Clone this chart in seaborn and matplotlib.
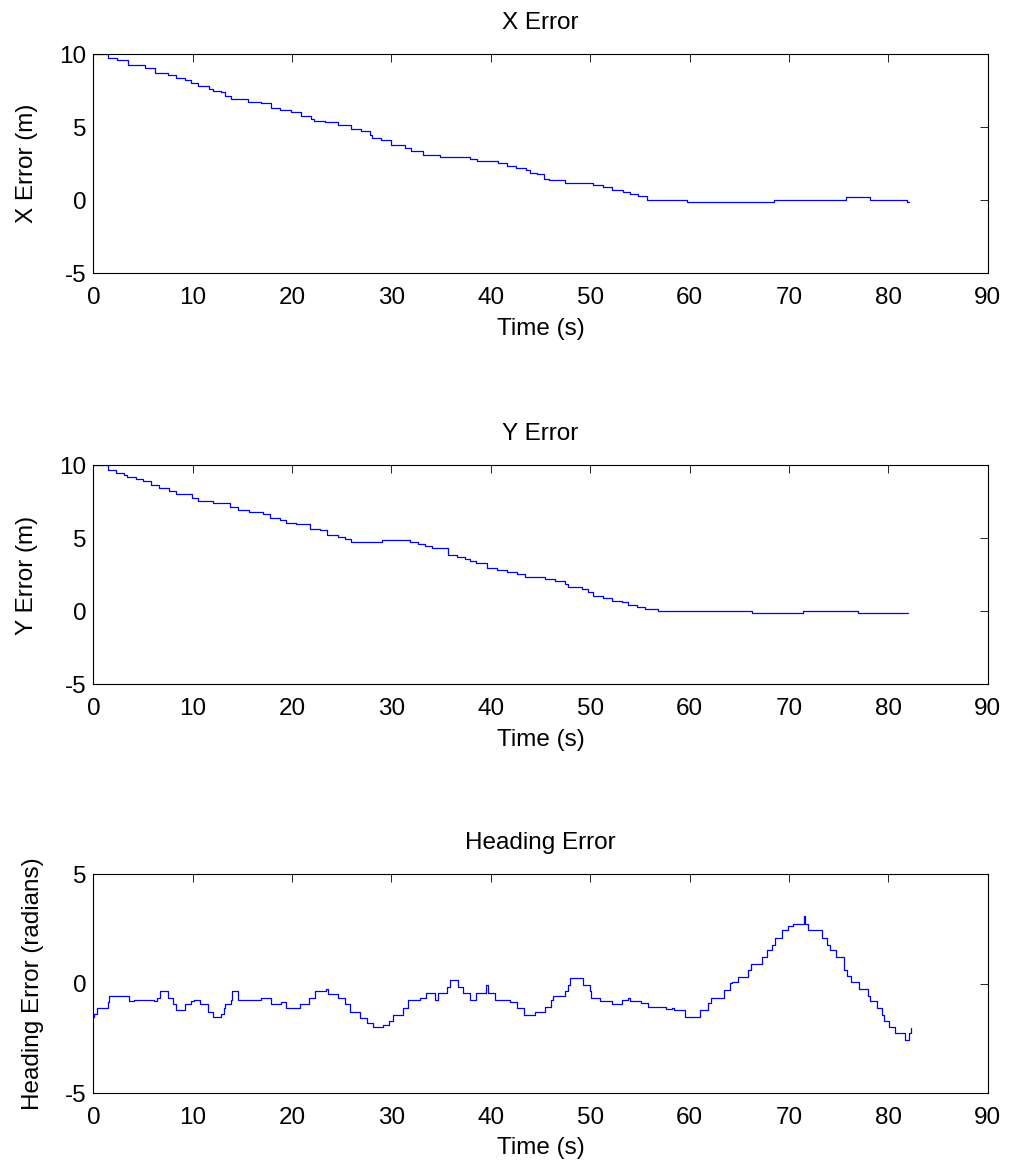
import matplotlib
matplotlib.use("Agg")
import matplotlib.pyplot as plt
import seaborn as sns

# X error: step start times (s) and values (m)
x_err_t = [0, 1.5, 2.4, 3.5, 5.2, 6.2, 7.5, 8.3, 9.2, 9.8, 10.5, 11.6, 12.0, 12.8, 13.3,
           13.9, 15.6, 16.9, 17.9, 18.8, 19.9, 20.9, 21.9, 22.2, 23.3, 24.6, 25.95, 26.95,
           27.8, 28.0, 28.95, 30.0, 31.35, 32.0, 33.2, 34.9, 37.9, 38.6, 40.75, 41.6, 42.55,
           43.5, 43.9, 44.6, 45.4, 45.9, 47.45, 50.3, 51.3, 52.2, 53.35, 54.0, 54.85, 55.7,
           59.7, 68.45, 75.7, 78.2, 81.9, 82.1]
x_err_v = [10.0, 9.77, 9.6, 9.3, 9.03, 8.73, 8.56, 8.38, 8.22, 8.03, 7.85, 7.6, 7.52, 7.4, 7.15,
           6.94, 6.76, 6.64, 6.34, 6.18, 6.02, 5.79, 5.6, 5.44, 5.33, 5.19, 4.86, 4.72,
           4.5, 4.28, 4.14, 3.82, 3.56, 3.40, 3.1, 2.99, 2.83, 2.69, 2.53, 2.36, 2.2,
           2.05, 1.9, 1.79, 1.48, 1.37, 1.20, 1.02, 0.90, 0.74, 0.58, 0.44, 0.28, 0.02,
           -0.12, 0.02, 0.21, 0.02, -0.1, -0.12]

# Y error
y_err_t = [0, 1.5, 2.3, 3.1, 3.4, 4.3, 4.95, 5.8, 6.65, 7.65, 8.3, 9.9, 10.5, 12.0, 13.8,
           14.55, 15.7, 17.05, 17.8, 18.75, 19.4, 20.4, 21.8, 22.8, 23.5, 24.6, 25.3, 25.95,
           29.0, 31.9, 32.7, 33.35, 34.05, 35.7, 36.55, 37.4, 37.9, 38.55, 39.6, 40.6, 41.6,
           42.6, 43.45, 45.45, 46.45, 47.5, 47.8, 49.15, 49.8, 50.3, 51.3, 52.2, 53.2, 53.85,
           54.7, 55.5, 56.85, 66.25, 71.45, 77.0, 82.0]
y_err_v = [10.0, 9.69, 9.5, 9.34, 9.22, 9.06, 8.92, 8.64, 8.48, 8.25, 8.04, 7.78, 7.57, 7.41, 7.13,
           6.97, 6.83, 6.67, 6.39, 6.23, 6.09, 5.97, 5.67, 5.56, 5.23, 5.09, 4.93, 4.76,
           4.90, 4.76, 4.62, 4.46, 4.32, 3.88, 3.76, 3.6, 3.46, 3.3, 3.0, 2.84, 2.72,
           2.54, 2.37, 2.25, 2.07, 1.85, 1.67, 1.51, 1.32, 1.09, 0.93, 0.74, 0.63, 0.46,
           0.32, 0.16, 0.0, -0.12, 0.02, -0.12, -0.12]

# heading error (radians)
hd_err_t = [0, 0.1, 0.4, 1.45, 1.6, 3.6, 4.1, 6.1, 6.45, 6.7, 7.5, 8.0, 8.3, 9.2, 9.8, 10.1,
            10.7, 11.5, 12.0, 12.85, 13.1, 13.3, 13.85, 14.0, 14.55, 16.9, 17.9, 18.9, 19.4,
            20.75, 21.75, 22.3, 23.45, 23.6, 24.6, 25.3, 25.85, 26.8, 27.5, 28.15, 29.15,
            29.8, 30.15, 31.15, 31.7, 32.85, 33.5, 34.35, 34.7, 35.55, 35.85, 36.7, 37.2,
            37.9, 38.55, 39.55, 39.7, 40.4, 41.9, 42.6, 43.3, 44.45, 45.45, 46.1, 46.3, 47.45,
            47.8, 48.0, 49.25, 49.95, 50.1, 50.95, 52.15, 53.2, 53.85, 54.0, 55.1, 55.85,
            57.65, 58.2, 58.4, 59.55, 61.1, 61.85, 62.2, 63.5, 64.1, 64.3, 64.9, 65.9, 66.2,
            67.3, 67.8, 68.3, 68.6, 69.3, 69.95, 70.45, 71.5, 71.65, 71.9, 73.3, 73.85, 74.1,
            74.7, 75.5, 75.85, 76.2, 77.05, 78.0, 78.2, 78.85, 79.4, 79.55, 80.05, 80.7, 81.7,
            82.1, 82.25]
hd_err_v = [-1.5, -1.38, -1.12, -0.85, -0.54, -0.81, -0.72, -0.81, -0.63, -0.34, -0.63, -0.93,
            -1.22, -0.93, -0.81, -0.72, -0.92, -1.27, -1.53, -1.4, -1.12, -0.92, -0.72, -0.34,
            -0.72, -0.65, -0.93, -0.82, -1.12, -0.92, -0.63, -0.34, -0.25, -0.47, -0.65, -0.93,
            -1.3, -1.57, -1.77, -1.99, -1.88, -1.68, -1.41, -1.12, -0.72, -0.63, -0.44, -0.72,
            -0.44, -0.15, 0.15, -0.15, -0.44, -0.72, -0.44, -0.06, -0.44, -0.72, -0.82, -1.12,
            -1.41, -1.3, -1.05, -0.75, -0.55, -0.35, -0.05, 0.26, -0.05, -0.35, -0.66, -0.81,
            -0.93, -0.73, -0.63, -0.77, -0.89, -1.05, -1.17, -1.1, -1.22, -1.5, -1.2, -0.89,
            -0.63, -0.28, 0.03, 0.06, 0.33, 0.64, 0.91, 1.22, 1.52, 1.78, 2.09, 2.47, 2.65,
            2.71, 3.09, 2.71, 2.47, 2.09, 1.78, 1.52, 1.22, 0.64, 0.36, 0.06, -0.25, -0.55,
            -0.81, -1.11, -1.42, -1.68, -1.96, -2.26, -2.57, -2.26, -2.03]

time_ticks = [0, 10, 20, 30, 40, 50, 60, 70, 80, 90]

sns.set_theme(style="white")
plt.rcParams['font.family'] = ['Liberation Sans', 'DejaVu Sans']
plt.rcParams['axes.edgecolor'] = 'black'
plt.rcParams['axes.linewidth'] = 0.8
plt.rcParams['text.color'] = 'black'
plt.rcParams['axes.labelcolor'] = 'black'
plt.rcParams['axes.unicode_minus'] = False

fs = 17.5

fig = plt.figure(figsize=(10.1, 11.68), dpi=100)

panels = [
    (0.766, x_err_t, x_err_v, "X Error", "X Error (m)", (-5, 10), [-5, 0, 5, 10]),
    (0.414, y_err_t, y_err_v, "Y Error", "Y Error (m)", (-5, 10), [-5, 0, 5, 10]),
    (0.064, hd_err_t, hd_err_v, "Heading Error", "Heading Error (radians)", (-5, 5), [-5, 0, 5]),
]

for bottom, t, v, title, ylab, ylim, yticks in panels:
    ax = fig.add_axes([0.0924, bottom, 0.8855, 0.1875])
    sns.lineplot(x=t, y=v, ax=ax, color='#0000ff', linewidth=0.9,
                 drawstyle='steps-post', estimator=None)
    ax.set_xlim(0, 90)
    ax.set_ylim(*ylim)
    ax.set_xticks(time_ticks)
    ax.set_yticks(yticks)
    ax.tick_params(direction='in', top=True, right=True, length=6, width=0.6,
                   labelsize=fs, colors='black')
    ax.tick_params(axis='x', pad=10)
    ax.tick_params(axis='y', pad=5)
    ax.set_title(title, fontsize=fs, pad=18, color='black')
    ax.set_xlabel("Time (s)", fontsize=fs, labelpad=6)
    ax.set_ylabel(ylab, fontsize=fs, labelpad=15)
    for s in ax.spines.values():
        s.set_visible(True)
        s.set_color('black')

fig.savefig("out.png", dpi=100)
